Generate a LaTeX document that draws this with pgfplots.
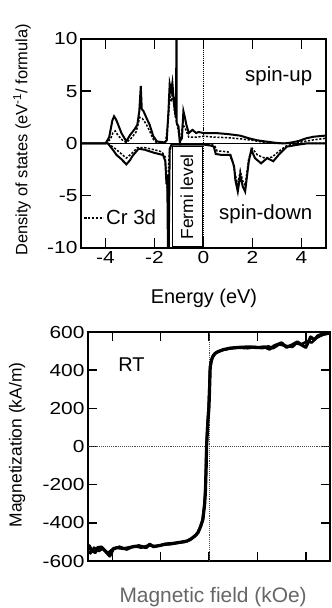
\documentclass[border=0pt]{standalone}
\usepackage{fontspec}
\setmainfont{Liberation Sans}
\newfontfamily\tickfont{Liberation Sans}[FakeStretch=1.2]
\usepackage{pgfplots}
\pgfplotsset{compat=1.18}
\begin{document}
\begin{tikzpicture}[x=1bp,y=1bp]
\path[use as bounding box] (0,0) rectangle (331,608);
\begin{axis}[
  at={(81bp,360bp)}, anchor=south west, width=245bp, height=209bp, scale only axis,
  xmin=-5, xmax=5, ymin=-10, ymax=10,
  xtick={-4,-2,0,2,4}, ytick={-10,-5,0,5,10},
  tick align=inside, major tick length=10bp,
  every tick/.style={black, line width=1.5bp},
  axis line style={line width=1.6bp},
  tick label style={font=\fontsize{17.5}{17.5}\tickfont},
  /pgf/number format/assume math mode=true,
  xlabel={Energy (eV)},
  ylabel={Density of states (eV\textsuperscript{-1}/ formula)},
  xlabel style={at={(axis description cs:0.502,-0.239)}, anchor=center, font=\fontsize{20}{20}\selectfont},
  ylabel style={at={(axis description cs:-0.241,0.517)}, anchor=center, font=\fontsize{16.5}{16.5}\selectfont},
  legend style={at={(axis description cs:0.01,0.144)}, anchor=west, draw=none, fill=none,
     font=\fontsize{20.5}{20.5}\selectfont, inner sep=0pt},
  legend cell align=left,
  legend image code/.code={\draw[#1] (0bp,0bp) -- (19bp,0bp);},
  clip=true,
]
\addplot[black, line width=2bp, forget plot] coordinates {
(-5,0) (-4.0,0) (-3.85,0.6) (-3.72,2.2) (-3.65,2.6) (-3.57,2.3) (-3.5,1.9) (-3.35,1.0) (-3.15,0.2)
(-3.0,0.8) (-2.8,1.4) (-2.7,1.8) (-2.62,3.1) (-2.56,5.5) (-2.52,3.3) (-2.45,3.1) (-2.3,2.3)
(-2.2,1.8) (-2.05,0.7) (-1.9,0.2) (-1.6,0.1) (-1.5,0.3) (-1.43,3.1) (-1.38,5.7) (-1.32,5.0)
(-1.27,5.8) (-1.2,3.7) (-1.13,2.5) (-1.1,10.5) (-1.1,2.0) (-1.02,1.6) (-0.97,0.2) (-0.88,0.5)
(-0.82,3.1) (-0.76,2.5) (-0.7,1.8) (-0.6,1.0) (-0.45,1.3) (-0.3,1.0) (-0.2,1.1) (0,1.0)
(0.5,1.0) (1.0,0.9) (1.5,0.75) (1.85,0.5) (2.2,0.3) (2.5,0.2) (3.0,0.05) (3.3,0.0) (3.6,0.1)
(3.9,0.25) (4.2,0.5) (4.5,0.65) (4.95,0.75) (5,0.75)
};
\addplot[black, line width=2bp, forget plot] coordinates {
(-5,0) (-3.9,0) (-3.7,-0.6) (-3.55,-1.1) (-3.35,-1.5) (-3.15,-2.0) (-3.0,-1.6) (-2.9,-1.2)
(-2.65,-0.5) (-2.4,-0.6) (-2.0,-0.9) (-1.65,-1.1) (-1.56,-1.7) (-1.51,-3.9) (-1.48,-3.0)
(-1.45,-10.5) (-1.42,-10.5) (-1.38,-0.5) (-1.3,-0.1) (0,-0.1) (0.3,-0.2) (0.42,-0.3) (0.5,-1.0)
(0.75,-1.1) (1.1,-1.1) (1.25,-2.2) (1.3,-3.5) (1.4,-4.6) (1.5,-3.0) (1.6,-4.1) (1.7,-4.6)
(1.85,-1.7) (1.95,-0.6) (2.1,-1.4) (2.35,-1.9) (2.6,-1.4) (2.85,-1.7) (3.1,-1.0) (3.4,-0.3)
(3.9,-0.1) (4.2,0) (5,0)
};
\addplot[black, line width=1.5bp, dash pattern=on 2.2bp off 1.6bp] coordinates {
(-4.0,0) (-3.8,0.4) (-3.7,1.0) (-3.6,1.2) (-3.5,0.8) (-3.3,0.3) (-3.15,0.1) (-2.95,0.5)
(-2.75,1.1) (-2.6,2.5) (-2.5,2.4) (-2.35,1.9) (-2.2,1.2) (-2.05,0.4) (-1.9,0.05) (-1.55,0.05)
(-1.45,2.0) (-1.37,4.5) (-1.3,4.0) (-1.25,5.0) (-1.18,3.0) (-1.05,1.5) (-0.95,0.1) (-0.85,1.8)
(-0.75,1.5) (-0.6,0.6) (-0.3,0.6) (0,0.7) (0.5,0.6) (1.0,0.55) (1.5,0.45) (2.0,0.3) (2.5,0.1)
(3.0,0.0) (3.5,0.05) (4.0,0.15) (4.5,0.35) (5,0.5)
};
\addlegendentry{Cr 3d}
\addplot[black, line width=1.5bp, dash pattern=on 2.2bp off 1.6bp, forget plot] coordinates {
(-3.9,0) (-3.6,-0.5) (-3.35,-1.0) (-3.15,-1.4) (-2.95,-1.0) (-2.7,-0.4) (-2.4,-0.4) (-2.0,-0.6)
(-1.7,-0.8) (-1.56,-1.3) (-1.51,-3.5) (-1.47,-4.5) (-1.4,-1.0) (-1.3,-0.05) (0,-0.05)
(0.3,-0.1) (0.45,-0.2) (0.55,-0.7) (1.0,-0.8) (1.2,-1.8) (1.3,-3.0) (1.4,-4.0) (1.5,-2.6)
(1.6,-3.6) (1.7,-4.0) (1.85,-1.4) (2.0,-0.5) (2.2,-1.1) (2.5,-1.4) (2.8,-1.3) (3.1,-0.7)
(3.4,-0.2) (3.8,0) (5,0)
};
\addplot[black, line width=1.8bp, forget plot] coordinates {(-5,0) (5,0)};
\addplot[black, line width=1.1bp, densely dotted, forget plot] coordinates {(0,-10) (0,10)};
\draw[black, line width=1bp, fill=white] (axis cs:-1.27,-0.3) rectangle (axis cs:-0.03,-9.9);
\node[rotate=90, font=\fontsize{17.5}{17.5}\selectfont] at (axis cs:-0.68,-5.1) {Fermi level};
\node[font=\fontsize{20.5}{20.5}\selectfont] at (axis cs:3.07,6.4) {spin-up};
\node[font=\fontsize{20.5}{20.5}\selectfont] at (axis cs:2.54,-6.8) {spin-down};
\node[font=\fontsize{20}{20}\selectfont] at (axis description cs:0.057,1.077) {(a)};
\end{axis}

\begin{axis}[
  at={(88bp,47bp)}, anchor=south west, width=242bp, height=229bp, scale only axis,
  xmin=-5, xmax=5, ymin=-600, ymax=600,
  xtick={-4,-2,0,2,4}, xticklabels={}, ytick={-600,-400,-200,0,200,400,600},
  tick align=inside, major tick length=9bp,
  every tick/.style={black, line width=1.4bp},
  axis line style={line width=1.5bp},
  tick label style={font=\fontsize{17.5}{17.5}\tickfont},
  /pgf/number format/assume math mode=true,
  xlabel={Magnetic field (kOe)},
  ylabel={Magnetization (kA/m)},
  xlabel style={at={(axis description cs:0.517,-0.157)}, anchor=center, text=black!60, font=\fontsize{21}{21}\selectfont},
  ylabel style={at={(axis description cs:-0.293,0.507)}, anchor=center, font=\fontsize{17.5}{17.5}\selectfont},
  clip=true,
]
\addplot[black!70, line width=0.9bp, densely dotted] coordinates {(-5,0) (5,0)};
\addplot[black!70, line width=0.9bp, densely dotted] coordinates {(0,-600) (0,600)};
\addplot[black, line width=3.2bp, line join=round] coordinates {
(-5.05,-548) (-4.95,-520) (-4.85,-545) (-4.7,-555) (-4.6,-530) (-4.45,-527) (-4.3,-545)
(-4.1,-574) (-3.95,-535) (-3.8,-530) (-3.5,-535) (-3.2,-527) (-2.9,-520) (-2.6,-530)
(-2.45,-512) (-2.3,-525) (-2.0,-518) (-1.8,-511) (-1.5,-508) (-1.15,-501) (-0.9,-495)
(-0.75,-485) (-0.55,-465) (-0.45,-450) (-0.35,-420) (-0.25,-381) (-0.18,-300) (-0.15,-240)
(-0.12,-120) (-0.1,0) (-0.05,120) (0,209) (0.03,330) (0.05,417) (0.1,450) (0.15,470)
(0.25,487) (0.35,496) (0.6,508) (0.9,516) (1.3,520) (1.7,522) (2.0,518) (2.3,522) (2.5,510)
(2.7,528) (3.0,543) (3.2,520) (3.4,530) (3.65,548) (3.85,530) (4.0,520) (4.2,574) (4.35,560)
(4.5,580) (4.8,595) (5.05,600)
};
\addplot[black, line width=2.6bp, line join=round] coordinates {
(-5.05,-540) (-4.9,-560) (-4.75,-530) (-4.55,-548) (-4.4,-535) (-4.2,-560) (-4.0,-540)
(-3.7,-525) (-3.4,-540) (-3.1,-522) (-2.8,-530) (-2.5,-518) (-2.2,-522) (-1.9,-515)
(-1.6,-512) (-1.3,-505) (-1.0,-500) (-0.8,-490) (-0.6,-472) (-0.48,-455) (-0.38,-430)
(-0.28,-395) (-0.2,-320) (-0.16,-250) (-0.13,-140) (-0.11,-20) (-0.07,100) (-0.02,200)
(0.02,320) (0.04,405) (0.08,445) (0.14,468) (0.22,485) (0.33,494) (0.55,505) (0.85,513)
(1.2,518) (1.6,515) (1.9,522) (2.2,515) (2.45,525) (2.65,515) (2.9,535) (3.15,528)
(3.45,522) (3.6,540) (3.8,535) (4.05,550) (4.25,545) (4.45,570) (4.7,585) (5.05,595)
};
\node[font=\fontsize{20}{20}\selectfont] at (axis cs:-3.2,428) {RT};
\node[font=\fontsize{20}{20}\selectfont] at (axis description cs:0.07,1.044) {(b)};
\end{axis}
\end{tikzpicture}
\end{document}
